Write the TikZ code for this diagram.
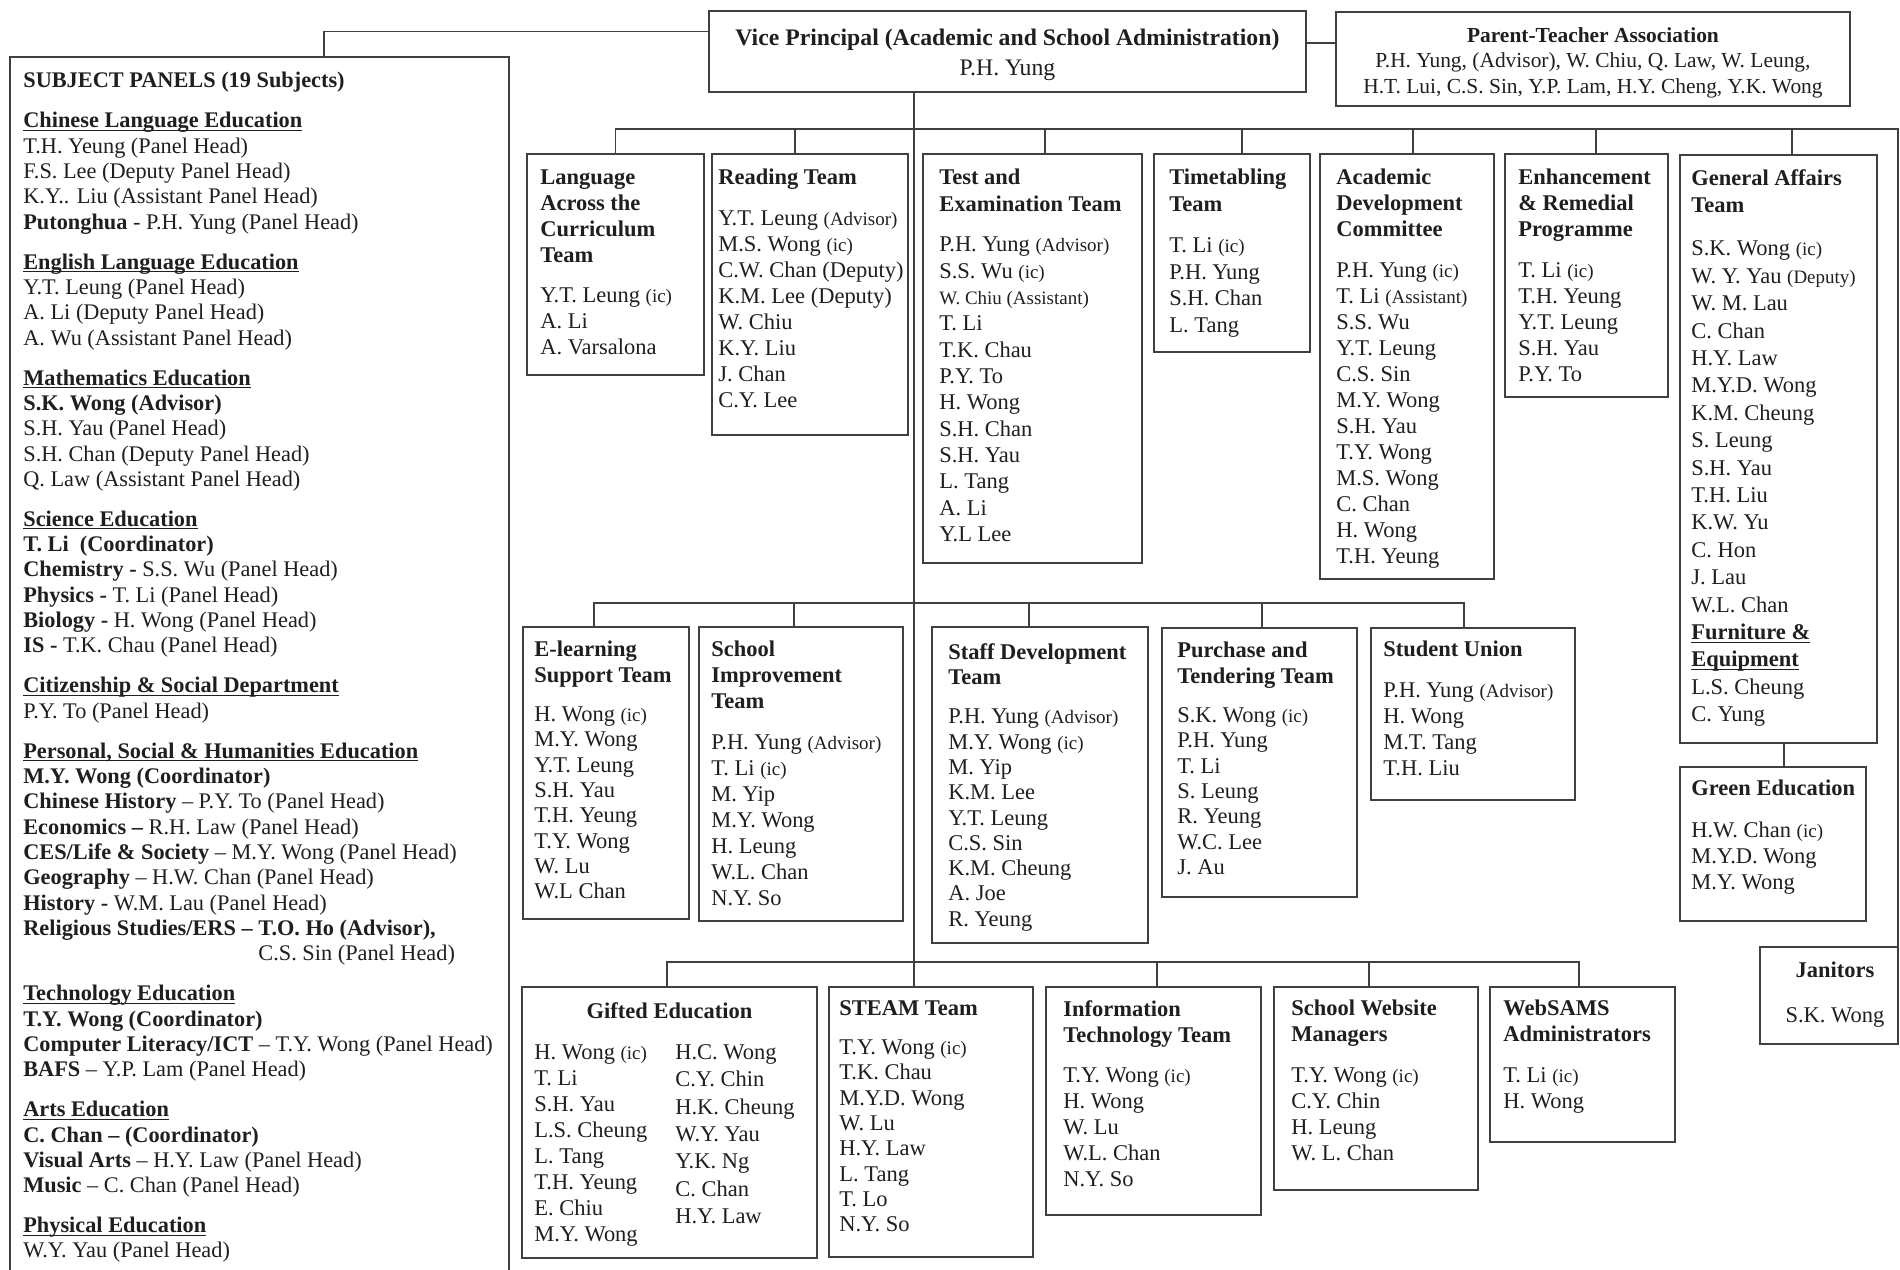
\documentclass[tikz,border=0pt]{standalone}
\usepackage{fontspec}
\setmainfont{Liberation Serif}
\usepackage{tikz}
\newcommand{\role}[1]{{\fontsize{10.8}{12}\selectfont #1}}
\newcommand{\uhead}[1]{\underline{\smash{\textbf{#1}}}}

\begin{document}
\begin{tikzpicture}[x=0.02cm,y=-0.02cm,font=\fontsize{12.8}{14.8}\selectfont,
    box/.style={draw=black!75,line width=1.2pt,anchor=north west,inner sep=0pt,outer sep=0pt},
    txt/.style={anchor=north west,align=left,inner sep=0pt,text=black!88},
    link/.style={black!75,line width=1.1pt}]
  % page is 1900 x 1269 px, y runs downwards
  \useasboundingbox (0,0) rectangle (1900,1269);
  \fill[white] (0,0) rectangle (1900,1269);

  % top
  \node[box,minimum width=11.94cm,minimum height=1.62cm] (vp) at (709,11) {};
  \node[txt,anchor=north,align=center,font=\fontsize{13.5}{17}\selectfont] (vp-t) at ([yshift=-0.36cm]vp.north)
    {\textbf{Vice Principal (Academic and School Administration)}\\P.H. Yung};
  \node[box,minimum width=10.28cm,minimum height=1.88cm] (pta) at (1336,12) {};
  \node[txt,anchor=north,align=center,font=\fontsize{12.2}{14.5}\selectfont] (pta-t) at ([yshift=-0.3cm]pta.north)
    {\textbf{Parent-Teacher Association}\\P.H. Yung, (Advisor), W. Chiu, Q. Law, W. Leung,\\H.T. Lui, C.S. Sin, Y.P. Lam, H.Y. Cheng, Y.K. Wong};

  % subject panels
  \node[box,minimum width=9.98cm,minimum height=24.6cm] (subj) at (10,57) {};
  \node[txt,font=\fontsize{12.7}{14.4}\selectfont] (subj-t) at ([shift={(0.26cm,-0.3cm)}]subj.north west)
    {\textbf{SUBJECT PANELS (19 Subjects)}\\[8.4pt]
     \uhead{Chinese Language Education}\\
     T.H. Yeung (Panel Head)\\
     F.S. Lee (Deputy Panel Head)\\
     K.Y.. Liu (Assistant Panel Head)\\
     \textbf{Putonghua} - P.H. Yung (Panel Head)\\[8.4pt]
     \uhead{English Language Education}\\
     Y.T. Leung (Panel Head)\\
     A. Li (Deputy Panel Head)\\
     A. Wu (Assistant Panel Head)\\[8.4pt]
     \uhead{Mathematics Education}\\
     \textbf{S.K. Wong (Advisor)}\\
     S.H. Yau (Panel Head)\\
     S.H. Chan (Deputy Panel Head)\\
     Q. Law (Assistant Panel Head)\\[8.4pt]
     \uhead{Science Education}\\
     \textbf{T. Li\ \ (Coordinator)}\\
     \textbf{Chemistry -} S.S. Wu (Panel Head)\\
     \textbf{Physics -} T. Li (Panel Head)\\
     \textbf{Biology -} H. Wong (Panel Head)\\
     \textbf{IS -} T.K. Chau (Panel Head)\\[8.4pt]
     \uhead{Citizenship \& Social Department}\\
     P.Y. To (Panel Head)\\[8.4pt]
     \uhead{Personal, Social \& Humanities Education}\\
     \textbf{M.Y. Wong (Coordinator)}\\
     \textbf{Chinese History} -- P.Y. To (Panel Head)\\
     \textbf{Economics --} R.H. Law (Panel Head)\\
     \textbf{CES/Life \& Society} -- M.Y. Wong (Panel Head)\\
     \textbf{Geography} -- H.W. Chan (Panel Head)\\
     \textbf{History -} W.M. Lau (Panel Head)\\
     \textbf{Religious Studies/ERS -- T.O. Ho (Advisor),}\\
     \phantom{\textbf{Religious Studies/ERS -- }}C.S. Sin (Panel Head)\\[8.4pt]
     \uhead{Technology Education}\\
     \textbf{T.Y. Wong (Coordinator)}\\
     \textbf{Computer Literacy/ICT} -- T.Y. Wong (Panel Head)\\
     \textbf{BAFS} -- Y.P. Lam (Panel Head)\\[8.4pt]
     \uhead{Arts Education}\\
     \textbf{C. Chan -- (Coordinator)}\\
     \textbf{Visual Arts} -- H.Y. Law (Panel Head)\\
     \textbf{Music} -- C. Chan (Panel Head)\\[8.4pt]
     \uhead{Physical Education}\\
     W.Y. Yau (Panel Head)};

  % first row
  \node[box,minimum width=3.54cm,minimum height=4.42cm] (lac) at (527,154) {};
  \node[txt] (lac-t) at ([shift={(0.26cm,-0.3cm)}]lac.north west)
    {\textbf{Language}\\\textbf{Across the}\\\textbf{Curriculum}\\\textbf{Team}\\[8pt]
     Y.T. Leung \role{(ic)}\\A. Li\\A. Varsalona};
  \node[box,minimum width=3.92cm,minimum height=5.62cm] (reading) at (712,154) {};
  \node[txt] (reading-t) at ([shift={(0.12cm,-0.3cm)}]reading.north west)
    {\textbf{Reading Team}\\[8pt]
     Y.T. Leung \role{(Advisor)}\\M.S. Wong \role{(ic)}\\C.W. Chan (Deputy)\\K.M. Lee (Deputy)\\
     W. Chiu\\K.Y. Liu\\J. Chan\\C.Y. Lee};
  \node[box,minimum width=4.38cm,minimum height=8.18cm] (test) at (923,154) {};
  \node[txt,font=\fontsize{12.8}{15}\selectfont] (test-t) at ([shift={(0.32cm,-0.3cm)}]test.north west)
    {\textbf{Test and}\\\textbf{Examination Team}\\[8pt]
     P.H. Yung \role{(Advisor)}\\S.S. Wu \role{(ic)}\\\role{W. Chiu (Assistant)}\\T. Li\\T.K. Chau\\
     P.Y. To\\H. Wong\\S.H. Chan\\S.H. Yau\\L. Tang\\A. Li\\Y.L Lee};
  \node[box,minimum width=3.12cm,minimum height=3.96cm] (timetab) at (1154,154) {};
  \node[txt,font=\fontsize{12.8}{15.2}\selectfont] (timetab-t) at ([shift={(0.3cm,-0.3cm)}]timetab.north west)
    {\textbf{Timetabling}\\\textbf{Team}\\[8pt]
     T. Li \role{(ic)}\\P.H. Yung\\S.H. Chan\\L. Tang};
  \node[box,minimum width=3.48cm,minimum height=8.5cm] (acad) at (1320,154) {};
  \node[txt] (acad-t) at ([shift={(0.32cm,-0.3cm)}]acad.north west)
    {\textbf{Academic}\\\textbf{Development}\\\textbf{Committee}\\[8pt]
     P.H. Yung \role{(ic)}\\T. Li \role{(Assistant)}\\S.S. Wu\\Y.T. Leung\\C.S. Sin\\M.Y. Wong\\
     S.H. Yau\\T.Y. Wong\\M.S. Wong\\C. Chan\\H. Wong\\T.H. Yeung};
  \node[box,minimum width=3.26cm,minimum height=4.86cm] (enh) at (1505,154) {};
  \node[txt] (enh-t) at ([shift={(0.26cm,-0.3cm)}]enh.north west)
    {\textbf{Enhancement}\\\textbf{\& Remedial}\\\textbf{Programme}\\[8pt]
     T. Li \role{(ic)}\\T.H. Yeung\\Y.T. Leung\\S.H. Yau\\P.Y. To};
  \node[box,minimum width=3.94cm,minimum height=11.76cm] (ga) at (1680,155) {};
  \node[txt,font=\fontsize{12.8}{15.6}\selectfont] (ga-t) at ([shift={(0.22cm,-0.28cm)}]ga.north west)
    {\textbf{General Affairs}\\\textbf{Team}\\[9pt]
     S.K. Wong \role{(ic)}\\W. Y. Yau \role{(Deputy)}\\W. M. Lau\\C. Chan\\H.Y. Law\\M.Y.D. Wong\\
     K.M. Cheung\\S. Leung\\S.H. Yau\\T.H. Liu\\K.W. Yu\\C. Hon\\J. Lau\\W.L. Chan\\
     \uhead{Furniture \&}\\\uhead{Equipment}\\L.S. Cheung\\C. Yung};
  \node[box,minimum width=3.72cm,minimum height=3.08cm] (green) at (1680,767) {};
  \node[txt] (green-t) at ([shift={(0.22cm,-0.26cm)}]green.north west)
    {\textbf{Green Education}\\[9pt]H.W. Chan \role{(ic)}\\M.Y.D. Wong\\M.Y. Wong};
  \node[box,minimum width=2.76cm,minimum height=1.94cm] (jan) at (1760,947) {};
  \node[txt,anchor=north,align=center] (jan-t) at ([shift={(0.12cm,-0.3cm)}]jan.north)
    {\textbf{Janitors}\\[10.8pt]S.K. Wong};

  % second row
  \node[box,minimum width=3.32cm,minimum height=5.84cm] (elearn) at (523,627) {};
  \node[txt,font=\fontsize{12.8}{14.4}\selectfont] (elearn-t) at ([shift={(0.22cm,-0.28cm)}]elearn.north west)
    {\textbf{E-learning}\\\textbf{Support Team}\\[8pt]
     H. Wong \role{(ic)}\\M.Y. Wong\\Y.T. Leung\\S.H. Yau\\T.H. Yeung\\T.Y. Wong\\W. Lu\\W.L Chan};
  \node[box,minimum width=4.08cm,minimum height=5.88cm] (improve) at (699,627) {};
  \node[txt] (improve-t) at ([shift={(0.24cm,-0.28cm)}]improve.north west)
    {\textbf{School}\\\textbf{Improvement}\\\textbf{Team}\\[8pt]
     P.H. Yung \role{(Advisor)}\\T. Li \role{(ic)}\\M. Yip\\M.Y. Wong\\H. Leung\\W.L. Chan\\N.Y. So};
  \node[box,minimum width=4.32cm,minimum height=6.32cm] (staff) at (932,627) {};
  \node[txt,font=\fontsize{12.8}{14.4}\selectfont] (staff-t) at ([shift={(0.32cm,-0.32cm)}]staff.north west)
    {\textbf{Staff Development}\\\textbf{Team}\\[8pt]
     P.H. Yung \role{(Advisor)}\\M.Y. Wong \role{(ic)}\\M. Yip\\K.M. Lee\\Y.T. Leung\\C.S. Sin\\
     K.M. Cheung\\A. Joe\\R. Yeung};
  \node[box,minimum width=3.9cm,minimum height=5.38cm] (purchase) at (1162,628) {};
  \node[txt,font=\fontsize{12.8}{14.4}\selectfont] (purchase-t) at ([shift={(0.3cm,-0.28cm)}]purchase.north west)
    {\textbf{Purchase and}\\\textbf{Tendering Team}\\[8pt]
     S.K. Wong \role{(ic)}\\P.H. Yung\\T. Li\\S. Leung\\R. Yeung\\W.C. Lee\\J. Au};
  \node[box,minimum width=4.08cm,minimum height=3.44cm] (su) at (1371,628) {};
  \node[txt] (su-t) at ([shift={(0.24cm,-0.26cm)}]su.north west)
    {\textbf{Student Union}\\[8pt]
     P.H. Yung \role{(Advisor)}\\H. Wong\\M.T. Tang\\T.H. Liu};

  % third row
  \node[box,minimum width=5.9cm,minimum height=5.42cm] (gifted) at (522,987) {};
  \node[txt,anchor=north] (gifted-t) at ([yshift=-0.3cm]gifted.north) {\textbf{Gifted Education}};
  \node[txt] (gifted-l) at ([shift={(0.24cm,-1.14cm)}]gifted.north west)
    {H. Wong \role{(ic)}\\T. Li\\S.H. Yau\\L.S. Cheung\\L. Tang\\T.H. Yeung\\E. Chiu\\M.Y. Wong};
  \node[txt,font=\fontsize{12.8}{15.6}\selectfont] (gifted-r) at ([shift={(3.06cm,-1.14cm)}]gifted.north west)
    {H.C. Wong\\C.Y. Chin\\H.K. Cheung\\W.Y. Yau\\Y.K. Ng\\C. Chan\\H.Y. Law};
  \node[box,minimum width=4.08cm,minimum height=5.4cm] (steam) at (829,987) {};
  \node[txt,font=\fontsize{12.8}{14.4}\selectfont] (steam-t) at ([shift={(0.2cm,-0.26cm)}]steam.north west)
    {\textbf{STEAM Team}\\[8pt]
     T.Y. Wong \role{(ic)}\\T.K. Chau\\M.Y.D. Wong\\W. Lu\\H.Y. Law\\L. Tang\\T. Lo\\N.Y. So};
  \node[box,minimum width=4.3cm,minimum height=4.56cm] (it) at (1046,987) {};
  \node[txt] (it-t) at ([shift={(0.34cm,-0.26cm)}]it.north west)
    {\textbf{Information}\\\textbf{Technology Team}\\[8pt]
     T.Y. Wong \role{(ic)}\\H. Wong\\W. Lu\\W.L. Chan\\N.Y. So};
  \node[box,minimum width=4.08cm,minimum height=4.06cm] (website) at (1274,987) {};
  \node[txt] (website-t) at ([shift={(0.34cm,-0.26cm)}]website.north west)
    {\textbf{School Website}\\\textbf{Managers}\\[8pt]
     T.Y. Wong \role{(ic)}\\C.Y. Chin\\H. Leung\\W. L. Chan};
  \node[box,minimum width=3.7cm,minimum height=3.1cm] (websams) at (1490,987) {};
  \node[txt] (websams-t) at ([shift={(0.26cm,-0.26cm)}]websams.north west)
    {\textbf{WebSAMS}\\\textbf{Administrators}\\[8pt]
     T. Li \role{(ic)}\\H. Wong};

  % links
  \draw[link] ([yshift=0.4cm]vp.west) -| ([xshift=1.3cm]subj.north);
  \draw[link] ([yshift=0.17cm]vp.east) -- ([yshift=0.17cm]vp.east -| pta.west);
  \coordinate (trunk) at (914,0);
  \draw[link] (vp.south -| trunk) -- (steam.north -| trunk);

  \draw[link] (lac.north) -- ++(0,-25) -| (jan.north east);
  \foreach \n/\s in {reading/-0.3,test/0.25,timetab/0.2,acad/0.12,enh/0.19,ga/0.27}
    \draw[link] ([xshift=\s cm]\n.north) -- ++(0,-25);
  \draw[link] ([xshift=0.11cm]ga.south) -- ([xshift=0.11cm]ga.south |- green.north);

  \draw[link] ([xshift=-0.24cm]elearn.north) -- ++(0,-24) -| ([xshift=-0.18cm]su.north);
  \foreach \n/\s in {improve/-0.14,staff/-0.22,purchase/0.05}
    \draw[link] ([xshift=\s cm]\n.north) -- ++(0,-24);

  \draw[link] ([xshift=-0.05cm]gifted.north) -- ++(0,-25) -| ([xshift=-0.07cm]websams.north);
  \foreach \n/\s in {it/0.07,website/-0.14}
    \draw[link] ([xshift=\s cm]\n.north) -- ++(0,-25);
\end{tikzpicture}
\end{document}
